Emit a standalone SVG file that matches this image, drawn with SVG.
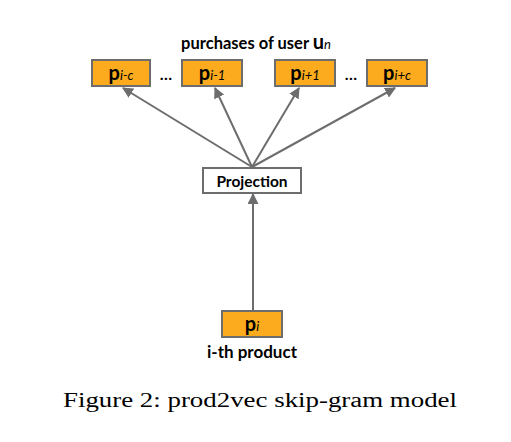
<svg xmlns="http://www.w3.org/2000/svg" width="511" height="442" viewBox="0 0 511 442">
<style>
.box{fill:#fbab1d;stroke:#6d6d6d;stroke-width:2}
.pbox{fill:#ffffff;stroke:#6d6d6d;stroke-width:2}
.lbl{font-family:Lato,"Open Sans",sans-serif;font-weight:bold;fill:#000}
.p{font-size:20px}
.sub{font-size:13px;font-style:italic;font-weight:normal}
.conn line{stroke:#6d6d6d;stroke-width:2;marker-end:url(#ah)}
.cap{font-family:"Liberation Serif",serif;font-size:20px;fill:#000}
</style>
<defs>
<marker id="ah" viewBox="0 0 10 10" refX="9" refY="5" markerWidth="5.5" markerHeight="5.5" orient="auto" markerUnits="strokeWidth">
<path d="M0,0 L10,5 L0,10 Z" fill="#6d6d6d"/>
</marker>
</defs>
<rect width="511" height="442" fill="#fff"/>
<text class="lbl" x="256" y="49" font-size="16.5" text-anchor="middle">purchases of user <tspan font-size="20">u</tspan><tspan class="sub" font-size="14">n</tspan></text>
<g class="conn">
<line x1="252" y1="167" x2="123" y2="88"/>
<line x1="252" y1="167" x2="215" y2="88"/>
<line x1="252" y1="167" x2="299" y2="88"/>
<line x1="252" y1="167" x2="395" y2="88"/>
<line x1="253" y1="311" x2="253" y2="194"/>
</g>
<g id="n_pic">
<rect class="box" x="92" y="60" width="58" height="26"/>
<text class="lbl p" x="121" y="80" text-anchor="middle">p<tspan class="sub">i-c</tspan></text>
</g>
<g id="dots1"><text class="lbl" x="166" y="80" font-size="16" text-anchor="middle">…</text></g>
<g id="n_pim1">
<rect class="box" x="182" y="60" width="60" height="26"/>
<text class="lbl p" x="212" y="80" text-anchor="middle">p<tspan class="sub">i-1</tspan></text>
</g>
<g id="n_pip1">
<rect class="box" x="275" y="60" width="60" height="26"/>
<text class="lbl p" x="305" y="80" text-anchor="middle">p<tspan class="sub">i+1</tspan></text>
</g>
<g id="dots2"><text class="lbl" x="351" y="80" font-size="16" text-anchor="middle">…</text></g>
<g id="n_pipc">
<rect class="box" x="367" y="60" width="60" height="26"/>
<text class="lbl p" x="397" y="80" text-anchor="middle">p<tspan class="sub">i+c</tspan></text>
</g>
<g id="n_proj">
<rect class="pbox" x="203" y="168" width="98" height="25"/>
<text class="lbl" x="252" y="186.5" font-size="15.5" text-anchor="middle">Projection</text>
</g>
<g id="n_pi">
<rect class="box" x="222" y="311" width="60" height="26"/>
<text class="lbl p" x="252" y="331" text-anchor="middle">p<tspan class="sub">i</tspan></text>
<text class="lbl" x="252" y="358" font-size="17" text-anchor="middle">i-th product</text>
</g>
<text class="cap" x="260" y="407" text-anchor="middle" textLength="394" lengthAdjust="spacingAndGlyphs">Figure 2: prod2vec skip-gram model</text>
</svg>
